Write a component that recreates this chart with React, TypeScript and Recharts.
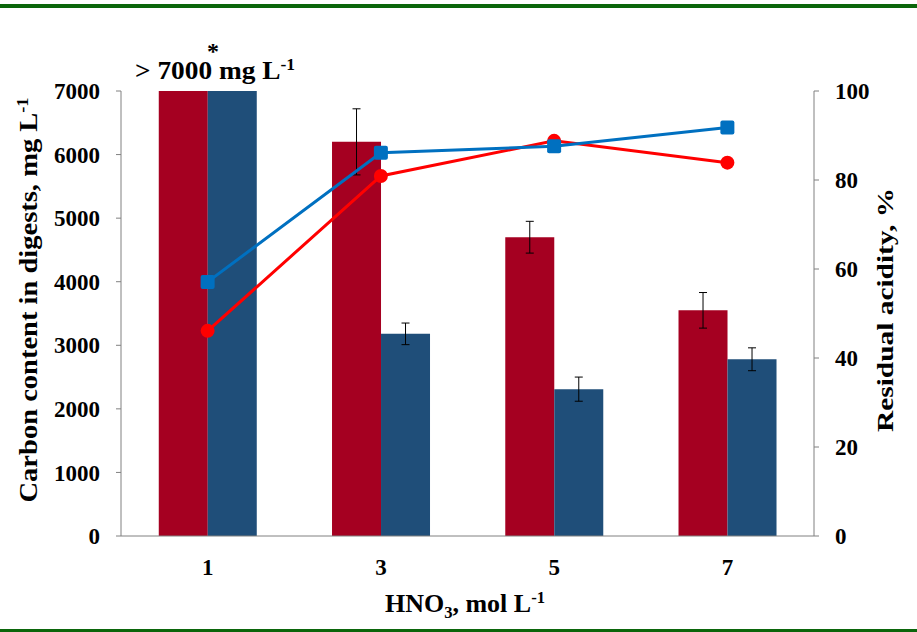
import React from 'react';
import { ComposedChart, Bar, Line, XAxis, YAxis, ErrorBar, Customized } from 'recharts';

const categories = ['1', '3', '5', '7'];
const redBarValues = [7000, 6200, 4700, 3550];
const redBarErrors = [null, 520, 250, 280];
const blueBarValues = [7000, 3180, 2310, 2780];
const blueBarErrors = [null, 170, 190, 180];
const redLineValues = [46.1, 80.9, 88.8, 83.9];
const blueLineValues = [57.1, 86.1, 87.6, 91.8];
const leftTicks = [0, 1000, 2000, 3000, 4000, 5000, 6000, 7000];
const rightTicks = [0, 20, 40, 60, 80, 100];

const data = categories.map((c, i) => ({
  cat: c,
  redBar: redBarValues[i],
  redErr: redBarErrors[i],
  blueBar: blueBarValues[i],
  blueErr: blueBarErrors[i],
  redLine: redLineValues[i],
  blueLine: blueLineValues[i],
}));

const FONT = '"Liberation Serif", "Times New Roman", serif';
const tickStyle = { fontFamily: FONT, fontWeight: 'bold', fontSize: 23, fill: '#000' };

const SquareDot = (props: any) => {
  const { cx, cy } = props;
  if (cx == null || cy == null) return null;
  return <rect x={cx - 7} y={cy - 7} width={14} height={14} rx={2} fill="#0070C0" />;
};

const Annotations = () => (
  <g fontFamily={FONT} fontWeight="bold" fill="#000">
    <text x={213} y={59} textAnchor="middle" fontSize={24}>*</text>
    <text x={215} y={79} textAnchor="middle" fontSize={25} textLength={160} lengthAdjust="spacingAndGlyphs">
      {'> 7000 mg L'}
      <tspan dy={-9} fontSize={16}>-1</tspan>
    </text>
    <text
      x={0}
      y={0}
      transform="translate(37, 300) rotate(-90)"
      textAnchor="middle"
      fontSize={25}
      textLength={405}
      lengthAdjust="spacingAndGlyphs"
    >
      {'Carbon content in digests, mg L'}
      <tspan dy={-9} fontSize={16}>-1</tspan>
    </text>
    <text
      x={0}
      y={0}
      transform="translate(893, 310) rotate(-90)"
      textAnchor="middle"
      fontSize={24}
      textLength={244}
      lengthAdjust="spacingAndGlyphs"
    >
      Residual acidity, %
    </text>
    <text x={465} y={612} textAnchor="middle" fontSize={25} textLength={160} lengthAdjust="spacingAndGlyphs">
      HNO
      <tspan dy={6} fontSize={16}>3</tspan>
      <tspan dy={-6}>, mol L</tspan>
      <tspan dy={-9} fontSize={16}>-1</tspan>
    </text>
  </g>
);

export default function App() {
  return (
    <div style={{ position: 'absolute', left: 0, top: 0, width: 917, height: 632, background: '#fff' }}>
      <div style={{ position: 'absolute', left: 0, top: 4, width: 917, height: 4, background: '#0B660B' }} />
      <div style={{ position: 'absolute', left: 0, top: 629, width: 917, height: 3, background: '#0B660B' }} />
      <ComposedChart
        width={917}
        height={632}
        data={data}
        margin={{ top: 91, right: 0, bottom: 36, left: 0 }}
        barCategoryGap="21.8%"
        barGap={0}
      >
        <XAxis
          dataKey="cat"
          height={60}
          tickLine={false}
          tickSize={0}
          tickMargin={23}
          tick={tickStyle}
          axisLine={{ stroke: '#808080', strokeWidth: 1 }}
        />
        <YAxis
          yAxisId="left"
          orientation="left"
          width={121}
          domain={[0, 7000]}
          ticks={leftTicks}
          interval={0}
          allowDataOverflow
          tickSize={5}
          tickMargin={16}
          tick={tickStyle}
          axisLine={{ stroke: '#808080', strokeWidth: 1 }}
          tickLine={{ stroke: '#808080', strokeWidth: 1 }}
        />
        <YAxis
          yAxisId="right"
          orientation="right"
          width={103}
          domain={[0, 100]}
          ticks={rightTicks}
          interval={0}
          tickSize={5}
          tickMargin={16}
          tick={{ ...tickStyle, textAnchor: 'start' }}
          axisLine={{ stroke: '#808080', strokeWidth: 1 }}
          tickLine={{ stroke: '#808080', strokeWidth: 1 }}
        />
        <Bar yAxisId="left" dataKey="redBar" fill="#A50021" isAnimationActive={false}>
          <ErrorBar dataKey="redErr" width={4} stroke="#000" strokeWidth={1} />
        </Bar>
        <Bar yAxisId="left" dataKey="blueBar" fill="#1F4E79" isAnimationActive={false}>
          <ErrorBar dataKey="blueErr" width={4} stroke="#000" strokeWidth={1} />
        </Bar>
        <Line
          yAxisId="right"
          dataKey="redLine"
          stroke="#FF0000"
          strokeWidth={3}
          dot={{ r: 7, fill: '#FF0000', stroke: '#FF0000', strokeWidth: 0 }}
          activeDot={false}
          isAnimationActive={false}
        />
        <Line
          yAxisId="right"
          dataKey="blueLine"
          stroke="#0070C0"
          strokeWidth={3}
          dot={<SquareDot />}
          activeDot={false}
          isAnimationActive={false}
        />
        <Customized component={<Annotations />} />
      </ComposedChart>
    </div>
  );
}
